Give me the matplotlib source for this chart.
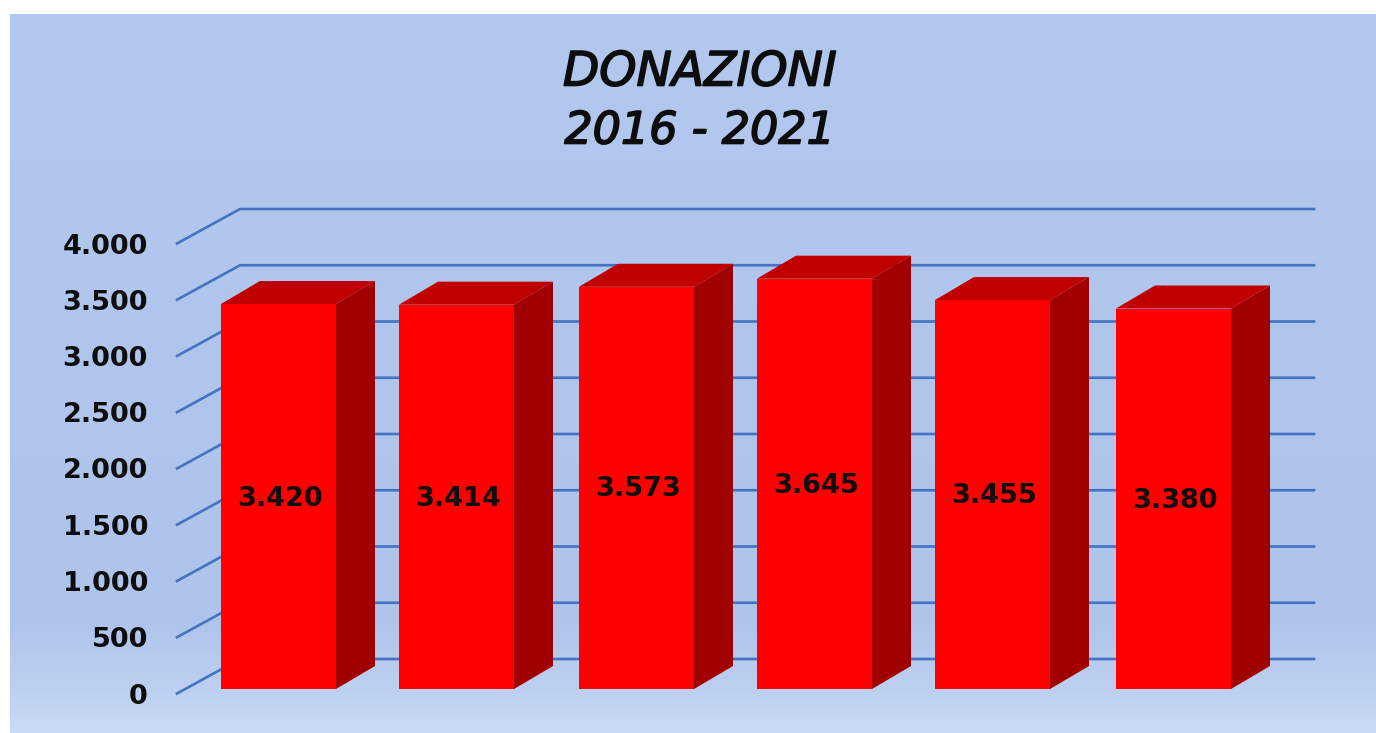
import numpy as np
import matplotlib
matplotlib.use("Agg")
import matplotlib.pyplot as plt
import matplotlib.patheffects as pe
from matplotlib.patches import Polygon, Rectangle

years = [2016, 2017, 2018, 2019, 2020, 2021]
donations = [3420, 3414, 3573, 3645, 3455, 3380]
value_labels = ["3.420", "3.414", "3.573", "3.645", "3.455", "3.380"]
y_ticks = [0, 500, 1000, 1500, 2000, 2500, 3000, 3500, 4000]
y_tick_labels = ["0", "500", "1.000", "1.500", "2.000", "2.500", "3.000", "3.500", "4.000"]
bar_lefts = [221, 399, 579, 757, 935, 1116]

W, H = 1376, 733
fig = plt.figure(figsize=(W / 100, H / 100), dpi=100, facecolor="white")
ax = fig.add_axes([0, 0, 1, 1])
ax.set_xlim(0, W)
ax.set_ylim(H, 0)
ax.axis("off")

# background gradient, panel starts a bit in from the edge
stops_y = [14, 300, 620, 690, 733]
stops_c = np.array([[178, 200, 238], [176, 198, 236], [174, 196, 234], [190, 208, 241], [203, 219, 246]]) / 255
rows = np.arange(14, 733)
grad = np.stack([np.interp(rows, stops_y, stops_c[:, i]) for i in range(3)], axis=1)[:, None, :]
ax.imshow(grad, extent=[10, W, 733, 14], aspect="auto", zorder=0)
ax.set_xlim(0, W)
ax.set_ylim(H, 0)

y0 = 693.5
per_unit = (693.5 - 243.5) / 4000
dx, dy = 63, 34.5
bar_w = 115
depth_x, depth_y = 39, 23
base = 689


def ypix(v):
    return y0 - v * per_unit


grid_col = "#4472c4"
for t, lab in zip(y_ticks, y_tick_labels):
    y = ypix(t)
    ax.plot([177, 177 + dx, 1314], [y, y - dy, y - dy], color=grid_col, lw=1.9, zorder=1)
    ax.text(148, y + 3, lab, ha="right", va="center", fontsize=19.5, fontweight="bold",
            color="#0d0d0d", family="DejaVu Sans", zorder=5)

label_y = [498, 498, 488, 485, 495, 500]
for left, v, lab, ly in zip(bar_lefts, donations, value_labels, label_y):
    top = base - v * (base - 304) / 3420
    right = left + bar_w
    ax.add_patch(Rectangle((left, top), bar_w, base - top, fc="#ff0000", ec="none", zorder=3))
    ax.add_patch(Polygon([(right, top), (right + depth_x, top - depth_y), (right + depth_x, base - depth_y), (right, base)],
                         fc="#a00000", ec="none", zorder=3))
    ax.add_patch(Polygon([(left, top), (left + depth_x, top - depth_y), (right + depth_x, top - depth_y), (right, top)],
                         fc="#c00000", ec="none", zorder=3))
    ax.text(left + 59, ly + 1, lab, ha="center", va="center", fontsize=19.5, fontweight="bold",
            color="#0d0d0d", family="DejaVu Sans", zorder=6)

# two sizes so both lines come out about as wide as in the picture
stroke = [pe.withStroke(linewidth=1.2, foreground="#0d0d0d")]
ax.text(700, 73, "DONAZIONI", ha="center", va="center", fontsize=34, style="italic",
        color="#0d0d0d", family="DejaVu Sans", path_effects=stroke)
ax.text(700, 131, "2016 - 2021", ha="center", va="center", fontsize=32, style="italic",
        color="#0d0d0d", family="DejaVu Sans", path_effects=stroke)

fig.savefig("out.png", dpi=100)
